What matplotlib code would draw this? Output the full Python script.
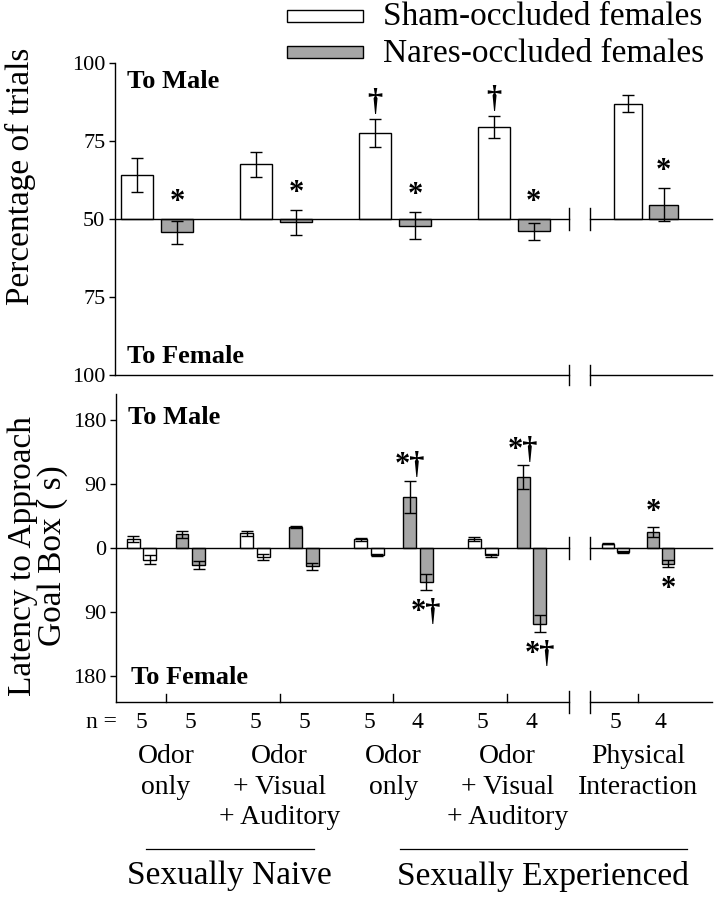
import matplotlib
matplotlib.use("Agg")
import matplotlib.pyplot as plt
import numpy as np
from matplotlib import transforms
from matplotlib.patches import Rectangle
from matplotlib.lines import Line2D

plt.rcParams["font.family"] = ["Liberation Serif", "DejaVu Serif"]

# ---- data ----
conditions = ["Odor\nonly", "Odor\n+ Visual\n+ Auditory", "Odor\nonly",
              "Odor\n+ Visual\n+ Auditory", "Physical\nInteraction"]
n_sham = [5, 5, 5, 5, 5]
n_nares = [5, 5, 4, 4, 4]

# top panel: percentage of trials to male
sham_pct = [64.0, 67.5, 77.5, 79.5, 87.0]
sham_pct_sem = [5.5, 4.0, 4.5, 3.5, 2.8]
nares_pct = [45.8, 48.9, 47.9, 46.0, 54.5]
nares_pct_sem = [3.7, 4.0, 4.3, 2.8, 5.3]
sham_pct_marks = ["", "", "\u2020", "\u2020", ""]
nares_pct_marks = ["*", "*", "*", "*", "*"]

# bottom panel: latency (s) to male (up) and to female (down)
sham_lat_male = [13.0, 21.0, 12.0, 12.5, 6.0]
sham_lat_male_sem = [4.0, 3.5, 1.5, 3.0, 1.0]
sham_lat_female = [16.5, 12.5, 10.0, 10.5, 5.5]
sham_lat_female_sem = [6.0, 4.0, 1.5, 2.5, 1.0]
nares_lat_male = [19.5, 29.0, 72.0, 100.0, 22.5]
nares_lat_male_sem = [5.0, 1.5, 22.5, 16.5, 7.0]
nares_lat_female = [24.0, 26.0, 48.0, 107.0, 22.0]
nares_lat_female_sem = [6.0, 4.5, 11.0, 12.0, 5.0]
nares_male_marks = ["", "", "*\u2020", "*\u2020", "*"]
nares_female_marks = ["", "", "*\u2020", "*\u2020", "*"]

legend_labels = ["Sham-occluded females", "Nares-occluded females"]
pct_ticks = [0, 25, 50, 75, 100]
pct_ticklabels = ["100", "75", "50", "75", "100"]
lat_ticks = [-180, -90, 0, 90, 180]
lat_ticklabels = ["180", "90", "0", "90", "180"]

GRAY = "#a6a6a6"
W, H = 716, 899
BREAK = (0.760, 0.796)


def rect(l, t, r, b):
    return [l / W, 1 - b / H, (r - l) / W, (b - t) / H]


def broken_hline(ax, y, b0, b1, dy):
    tr = ax.get_yaxis_transform()
    kw = dict(color="black", lw=1.0, transform=tr, clip_on=False)
    ax.plot([0, b0], [y, y], **kw)
    ax.plot([b1, 1], [y, y], **kw)
    for b in (b0, b1):
        ax.plot([b, b], [y - dy, y + dy], **kw)


fig = plt.figure(figsize=(W / 100, H / 100), dpi=100)

# ---------------- top panel ----------------
ax1 = fig.add_axes(rect(115, 63, 712, 375))
slots_top = np.array([0, 1, 2, 3, 4.11])
off_top = np.array([0.168, 0.168, 0.168, 0.168, 0.15])
wid_top = np.array([0.266, 0.266, 0.266, 0.266, 0.24])
x_sham = slots_top - off_top
x_nares = slots_top + off_top

s_h = np.array(sham_pct) - 50
n_h = np.array(nares_pct) - 50
ax1.bar(x_sham, s_h, width=wid_top, bottom=50, color="white",
        edgecolor="black", lw=1.0, zorder=2)
ax1.bar(x_nares, n_h, width=wid_top, bottom=50, color=GRAY,
        edgecolor="black", lw=1.0, zorder=2)
ax1.errorbar(x_sham, sham_pct, yerr=sham_pct_sem, fmt="none", ecolor="black",
             elinewidth=1.0, capsize=4, capthick=1.0, zorder=3)
ax1.errorbar(x_nares, nares_pct, yerr=nares_pct_sem, fmt="none", ecolor="black",
             elinewidth=1.0, capsize=4, capthick=1.0, zorder=3)

for xs, vals, sems, marks in [(x_sham, sham_pct, sham_pct_sem, sham_pct_marks),
                              (x_nares, nares_pct, nares_pct_sem, nares_pct_marks)]:
    for x, v, s, m in zip(xs, vals, sems, marks):
        if not m:
            continue
        top = max(50, v + s)
        ax1.annotate(m, (x, top), xytext=(0, 6.5), textcoords="offset points",
                     ha="center", va="baseline", fontsize=22, fontweight="bold")

ax1.set_xlim(-0.354, 4.667)
ax1.set_ylim(0, 100)
for sp in ["top", "right", "bottom"]:
    ax1.spines[sp].set_visible(False)
ax1.spines["left"].set_linewidth(1.0)
ax1.set_xticks([])
ax1.set_yticks(pct_ticks)
ax1.set_yticklabels(pct_ticklabels, fontsize=16)
ax1.tick_params(axis="y", direction="out", length=4, width=1.0, pad=3)
broken_hline(ax1, 50, *BREAK, 3.4)
broken_hline(ax1, 0, *BREAK, 3.2)
ax1.text(0.02, 0.94, "To Male", transform=ax1.transAxes, fontsize=19,
         fontweight="bold", va="center", ha="left")
ax1.text(0.02, 0.058, "To Female", transform=ax1.transAxes, fontsize=19,
         fontweight="bold", va="center", ha="left")

# ---------------- bottom panel ----------------
ax2 = fig.add_axes(rect(116, 394, 712, 702))
slots_bot = np.array([0, 1, 2, 3, 4.15])
inner = np.array([0.142, 0.142, 0.142, 0.142, 0.132])
outer = np.array([0.288, 0.288, 0.288, 0.288, 0.266])
wid_bot = np.array([0.114, 0.114, 0.114, 0.114, 0.105])

series = [
    (slots_bot - outer, np.array(sham_lat_male), sham_lat_male_sem, "white", None),
    (slots_bot - inner, -np.array(sham_lat_female), sham_lat_female_sem, "white", None),
    (slots_bot + inner, np.array(nares_lat_male), nares_lat_male_sem, GRAY, nares_male_marks),
    (slots_bot + outer, -np.array(nares_lat_female), nares_lat_female_sem, GRAY, nares_female_marks),
]
for xs, vals, sems, col, marks in series:
    ax2.bar(xs, vals, width=wid_bot, color=col, edgecolor="black", lw=1.0, zorder=2)
    ax2.errorbar(xs, vals, yerr=sems, fmt="none", ecolor="black",
                 elinewidth=1.0, capsize=4.5, capthick=1.0, zorder=3)
    if marks:
        for x, v, s, m in zip(xs, vals, sems, marks):
            if not m:
                continue
            if v > 0:
                ax2.annotate(m, (x, v + s), xytext=(0, 5.4), textcoords="offset points",
                             ha="center", va="baseline", fontsize=22, fontweight="bold")
            else:
                ax2.annotate(m, (x, v - s), xytext=(0, -21.5), textcoords="offset points",
                             ha="center", va="baseline", fontsize=22, fontweight="bold")

ax2.set_xlim(-0.438, 4.8)
ax2.set_ylim(-217, 217)
for sp in ["top", "right", "bottom"]:
    ax2.spines[sp].set_visible(False)
ax2.spines["left"].set_linewidth(1.0)
ax2.set_yticks(lat_ticks)
ax2.set_yticklabels(lat_ticklabels, fontsize=16)
ax2.tick_params(axis="y", direction="out", length=4, width=1.0, pad=3)
ax2.set_xticks([])
broken_hline(ax2, 0, *BREAK, 16)
broken_hline(ax2, -217, *BREAK, 15)
# small upward ticks on the bottom axis
for x in slots_bot:
    ax2.plot([x, x], [-217, -206], color="black", lw=1.0, clip_on=False)
ax2.text(0.02, 0.925, "To Male", transform=ax2.transAxes, fontsize=19,
         fontweight="bold", va="center", ha="left")
ax2.text(0.025, 0.08, "To Female", transform=ax2.transAxes, fontsize=19,
         fontweight="bold", va="center", ha="left")

# ---------------- labels below ----------------
bt = transforms.blended_transform_factory(ax2.transData, fig.transFigure)
fy = lambda px: 1 - px / H
fig.text(117 / W, fy(722), "n =", ha="right", va="center", fontsize=17)
pair = (inner + outer) / 2
for i in range(len(conditions)):
    ax2.text(slots_bot[i] - pair[i], fy(722), str(n_sham[i]), transform=bt,
             ha="center", va="center", fontsize=17)
    ax2.text(slots_bot[i] + pair[i], fy(722), str(n_nares[i]), transform=bt,
             ha="center", va="center", fontsize=17)
    ax2.text(slots_bot[i], fy(744), conditions[i], transform=bt, ha="center",
             va="top", fontsize=20, linespacing=1.3)

groups = [("Sexually Naive", -0.17, 1.3, 0.56), ("Sexually Experienced", 2.06, 4.58, 3.31)]
for name, x0, x1, xc in groups:
    fig.add_artist(Line2D([x0, x1], [fy(849), fy(849)], transform=bt,
                          color="black", lw=0.9))
    ax2.text(xc, fy(876), name, transform=bt, ha="center", va="center", fontsize=24)

# ---------------- y labels ----------------
fig.text(20 / W, fy(176), "Percentage of trials", rotation=90, ha="center",
         va="center", fontsize=24)
fig.text(38 / W, fy(556), "Latency to Approach\nGoal Box ( s)", rotation=90,
         ha="center", va="center", fontsize=24, linespacing=0.98,
         multialignment="center")

# ---------------- legend ----------------
for (label, top, face) in [(legend_labels[0], 10, "white"), (legend_labels[1], 46, GRAY)]:
    fig.add_artist(Rectangle((287 / W, fy(top + 12)), 76 / W, 12 / H,
                             transform=fig.transFigure, facecolor=face,
                             edgecolor="black", lw=1.0))
fig.text(383 / W, fy(25), legend_labels[0], ha="left", va="baseline", fontsize=24)
fig.text(383 / W, fy(62), legend_labels[1], ha="left", va="baseline", fontsize=24)

fig.savefig("out.png", dpi=100, facecolor="white")
